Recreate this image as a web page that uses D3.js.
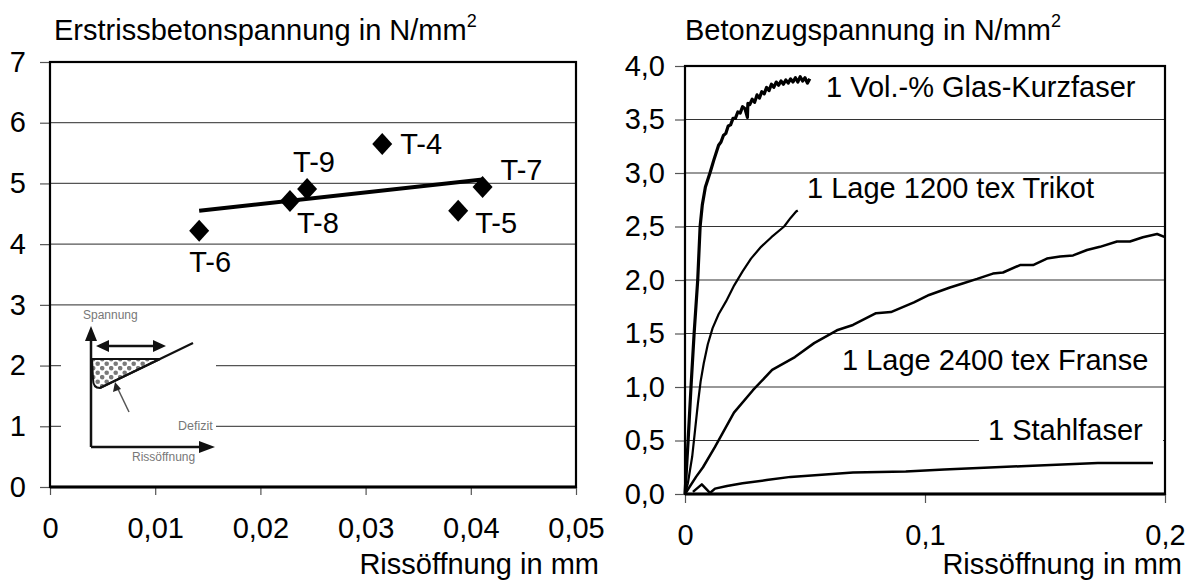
<!DOCTYPE html>
<html>
<head>
<meta charset="utf-8">
<script src="https://cdn.jsdelivr.net/npm/d3@7"></script>
<style>
	body { margin: 0; background: white; }
	svg text { font-family: "Liberation Sans", Arial, sans-serif; fill: black; }
</style>
</head>
<body>
<div id="graph"></div>
<script>
// left chart: first crack stress vs crack width
var pointNames = ["T-6", "T-8", "T-9", "T-4", "T-5", "T-7"];
var crackWidth = [0.01418, 0.02281, 0.02444, 0.03158, 0.0388, 0.04112];
var crackStress = [4.22, 4.71, 4.91, 5.65, 4.55, 4.94];
var leftXTicks = [0, 0.01, 0.02, 0.03, 0.04, 0.05];
var leftYTicks = [0, 1, 2, 3, 4, 5, 6, 7];

// right chart: tensile stress curves
var glasX = [0, 0.0013, 0.0025, 0.0038, 0.0053, 0.0058, 0.0063, 0.0072, 0.0085, 0.0104, 0.012, 0.014, 0.015, 0.016, 0.017, 0.018, 0.019, 0.02, 0.021, 0.022, 0.023, 0.024, 0.025, 0.026, 0.0262, 0.027, 0.028, 0.029, 0.03, 0.031, 0.032, 0.033, 0.034, 0.035, 0.036, 0.037, 0.038, 0.039, 0.04, 0.041, 0.042, 0.043, 0.044, 0.045, 0.046, 0.047, 0.048, 0.049, 0.05, 0.051, 0.052];
var glasY = [0, 0.5, 1.0, 1.5, 2.0, 2.25, 2.5, 2.7, 2.87, 3.0, 3.12, 3.26, 3.29, 3.35, 3.37, 3.44, 3.45, 3.51, 3.51, 3.57, 3.56, 3.62, 3.6, 3.52, 3.65, 3.64, 3.69, 3.66, 3.73, 3.7, 3.76, 3.74, 3.8, 3.77, 3.83, 3.8, 3.85, 3.82, 3.86, 3.83, 3.87, 3.84, 3.88, 3.85, 3.89, 3.85, 3.9, 3.86, 3.89, 3.84, 3.88];
var trikotX = [0, 0.0012, 0.003, 0.0042, 0.0054, 0.0065, 0.0078, 0.0095, 0.0115, 0.014, 0.0171, 0.0205, 0.024, 0.0275, 0.0317, 0.036, 0.0413, 0.044, 0.0463, 0.047];
var trikotY = [0, 0.1, 0.35, 0.6, 0.85, 1.05, 1.22, 1.4, 1.55, 1.68, 1.8, 1.95, 2.08, 2.2, 2.31, 2.4, 2.5, 2.58, 2.64, 2.65];
var franseX = [0, 0.0046, 0.0075, 0.0125, 0.0204, 0.0283, 0.0363, 0.0458, 0.0538, 0.0633, 0.07, 0.0796, 0.0858, 0.0954, 0.1017, 0.1104, 0.116, 0.1217, 0.1283, 0.1325, 0.1396, 0.145, 0.1508, 0.1563, 0.1617, 0.1675, 0.1729, 0.18, 0.1854, 0.1908, 0.1967, 0.2];
var franseY = [0, 0.16, 0.25, 0.44, 0.76, 0.97, 1.16, 1.28, 1.41, 1.53, 1.58, 1.69, 1.7, 1.79, 1.86, 1.93, 1.97, 2.01, 2.06, 2.07, 2.14, 2.14, 2.2, 2.22, 2.23, 2.28, 2.31, 2.36, 2.36, 2.4, 2.43, 2.4];
var stahlX = [0.0033, 0.007, 0.0104, 0.0125, 0.0175, 0.024, 0.034, 0.044, 0.07, 0.092, 0.108, 0.14, 0.172, 0.195];
var stahlY = [0.02, 0.09, 0.01, 0.05, 0.075, 0.1, 0.13, 0.16, 0.2, 0.21, 0.23, 0.26, 0.29, 0.29];
var curveNames = ["1 Vol.-% Glas-Kurzfaser", "1 Lage 1200 tex Trikot", "1 Lage 2400 tex Franse", "1 Stahlfaser"];
var rightXTicks = [0, 0.1, 0.2];
var rightYTicks = [0, 0.5, 1, 1.5, 2, 2.5, 3, 3.5, 4];

var w = 1193;
var h = 581;
var fontSize = 29;
var comma = function (v) { return String(v).replace(".", ","); };
var fixed1 = function (v) { return v.toFixed(1).replace(".", ","); };

var svg = d3.select("#graph")
	.append("svg")
	.attr("width", w)
	.attr("height", h);

// ---------- left chart ----------
var xL = d3.scaleLinear().domain([0, 0.05]).range([50, 576]);
var yL = d3.scaleLinear().domain([0, 7]).range([487, 62]);

var left = svg.append("g").attr("id", "left");

left.selectAll("line.grid")
	.data(leftYTicks.slice(1, -1))
	.enter().append("line")
	.attr("class", "grid")
	.attr("x1", xL(0)).attr("x2", xL(0.05))
	.attr("y1", function (d) { return yL(d); })
	.attr("y2", function (d) { return yL(d); })
	.attr("stroke", "#555")
	.attr("stroke-width", 1.2);

// inset sketch (pasted picture in the original)
var inset = left.append("g").attr("transform", "translate(91,447)");
var defs = svg.append("defs");
var pat = defs.append("pattern")
	.attr("id", "dots")
	.attr("patternUnits", "userSpaceOnUse")
	.attr("width", 9).attr("height", 9);
pat.append("rect").attr("width", 9).attr("height", 9).attr("fill", "white");
pat.append("circle").attr("cx", 2.2).attr("cy", 2.2).attr("r", 2.3).attr("fill", "#7a7a7a");
pat.append("circle").attr("cx", 6.7).attr("cy", 6.7).attr("r", 2.3).attr("fill", "#7a7a7a");

inset.append("rect")
	.attr("x", -30).attr("y", -139)
	.attr("width", 155).attr("height", 162)
	.attr("fill", "white");

inset.append("path")
	.attr("d", "M1,-88 L69,-88 L9,-59 Q2,-59 2,-68 Z")
	.attr("fill", "url(#dots)")
	.attr("stroke", "#111")
	.attr("stroke-width", 2);

inset.append("line")
	.attr("x1", 9).attr("y1", -59).attr("x2", 102).attr("y2", -104)
	.attr("stroke", "#111").attr("stroke-width", 2.2);

// axes of the sketch
inset.append("path")
	.attr("d", "M0,0 L0,-108 M0,0 L110,0")
	.attr("stroke", "#111").attr("stroke-width", 2.5).attr("fill", "none");
inset.append("path")
	.attr("d", "M0,-121 L-6,-106 L6,-106 Z M124,0 L108,-6 L108,6 Z")
	.attr("fill", "#111");

// double arrow
inset.append("line")
	.attr("x1", 14).attr("y1", -101).attr("x2", 66).attr("y2", -101)
	.attr("stroke", "#111").attr("stroke-width", 2.5);
inset.append("path")
	.attr("d", "M5,-101 L18,-107 L18,-95 Z M75,-101 L62,-107 L62,-95 Z")
	.attr("fill", "#111");

// pointer
inset.append("line")
	.attr("x1", 38).attr("y1", -35).attr("x2", 26).attr("y2", -60)
	.attr("stroke", "#555").attr("stroke-width", 1.5);
inset.append("path")
	.attr("d", "M24,-65 L22,-55 L30,-58 Z")
	.attr("fill", "#222");

inset.append("text").attr("x", -8).attr("y", -128)
	.style("font-size", "12px").style("fill", "#777").text("Spannung");
inset.append("text").attr("x", 87).attr("y", -17)
	.style("font-size", "12.5px").style("fill", "#777").text("Defizit");
inset.append("text").attr("x", 41).attr("y", 14)
	.style("font-size", "12px").style("fill", "#777").text("Rissöffnung");

// axes
var axisL = left.append("g")
	.attr("transform", "translate(" + xL(0) + ",0)")
	.call(d3.axisLeft(yL).tickValues(leftYTicks).tickSize(10).tickPadding(14).tickFormat(comma));
var axisB = left.append("g")
	.attr("transform", "translate(0," + yL(0) + ")")
	.call(d3.axisBottom(xL).tickValues(leftXTicks).tickSize(8).tickPadding(22).tickFormat(comma));

[axisL, axisB].forEach(function (a) {
	a.select(".domain").remove();
	a.selectAll("line").attr("stroke", "#555").attr("stroke-width", 1.2);
	a.selectAll("text").style("font-size", fontSize + "px").style("font-family", "Liberation Sans, Arial, sans-serif");
});

// frame
left.append("rect")
	.attr("x", xL(0)).attr("y", yL(7))
	.attr("width", xL(0.05) - xL(0)).attr("height", yL(0) - yL(7))
	.attr("fill", "none").attr("stroke", "black").attr("stroke-width", 2.2);
left.append("line")
	.attr("x1", xL(0)).attr("x2", xL(0.05))
	.attr("y1", yL(0)).attr("y2", yL(0))
	.attr("stroke", "black").attr("stroke-width", 3);

// trend line (least squares)
var mx = d3.mean(crackWidth), my = d3.mean(crackStress);
var sxy = d3.sum(crackWidth, function (d, i) { return (d - mx) * (crackStress[i] - my); });
var sxx = d3.sum(crackWidth, function (d) { return (d - mx) * (d - mx); });
var slope = sxy / sxx;
var x0 = d3.min(crackWidth), x1 = d3.max(crackWidth);
left.append("line")
	.attr("x1", xL(x0)).attr("y1", yL(my + slope * (x0 - mx)))
	.attr("x2", xL(x1)).attr("y2", yL(my + slope * (x1 - mx)))
	.attr("stroke", "black").attr("stroke-width", 4);

// points
var points = pointNames.map(function (n, i) {
	return {name: n, x: crackWidth[i], y: crackStress[i]};
});
var diamond = "M0,-11 L10,0 L0,11 L-10,0 Z";
left.selectAll("path.pt")
	.data(points)
	.enter().append("path")
	.attr("class", "pt")
	.attr("d", diamond)
	.attr("transform", function (d) { return "translate(" + xL(d.x) + "," + yL(d.y) + ")"; })
	.attr("fill", "black");

var labelOffset = {
	"T-6": [-10, 41], "T-8": [7, 32], "T-9": [-14, -17],
	"T-4": [18, 10], "T-5": [17, 22], "T-7": [18, -7]
};
left.selectAll("text.lbl")
	.data(points)
	.enter().append("text")
	.attr("class", "lbl")
	.attr("x", function (d) { return xL(d.x) + labelOffset[d.name][0]; })
	.attr("y", function (d) { return yL(d.y) + labelOffset[d.name][1]; })
	.style("font-size", fontSize + "px")
	.text(function (d) { return d.name; });

var t1 = left.append("text").attr("x", 54).attr("y", 40).style("font-size", fontSize + "px");
t1.append("tspan").text("Erstrissbetonspannung in N/mm");
t1.append("tspan").attr("dy", -13).style("font-size", "18px").text("2");

left.append("text")
	.attr("x", 599).attr("y", 574)
	.attr("text-anchor", "end")
	.style("font-size", fontSize + "px")
	.text("Rissöffnung in mm");

// ---------- right chart ----------
var xR = d3.scaleLinear().domain([0, 0.2]).range([685, 1165]);
var yR = d3.scaleLinear().domain([0, 4]).range([494, 66]);

var right = svg.append("g").attr("id", "right");

right.selectAll("line.grid")
	.data(rightYTicks.slice(1, -1))
	.enter().append("line")
	.attr("class", "grid")
	.attr("x1", xR(0)).attr("x2", xR(0.2))
	.attr("y1", function (d) { return yR(d); })
	.attr("y2", function (d) { return yR(d); })
	.attr("stroke", "#333")
	.attr("stroke-width", 1.2);

var axisRL = right.append("g")
	.attr("transform", "translate(" + xR(0) + ",0)")
	.call(d3.axisLeft(yR).tickValues(rightYTicks).tickSize(10).tickPadding(10).tickFormat(fixed1));
var axisRB = right.append("g")
	.attr("transform", "translate(0," + yR(0) + ")")
	.call(d3.axisBottom(xR).tickValues(rightXTicks).tickSize(9).tickPadding(21).tickFormat(comma));

[axisRL, axisRB].forEach(function (a) {
	a.select(".domain").remove();
	a.selectAll("line").attr("stroke", "#555").attr("stroke-width", 1.2);
	a.selectAll("text").style("font-size", fontSize + "px").style("font-family", "Liberation Sans, Arial, sans-serif");
});

// white box behind the steel fibre label
right.append("rect")
	.attr("x", 979).attr("y", 414)
	.attr("width", 184).attr("height", 32)
	.attr("fill", "white");

var line = d3.line()
	.x(function (d) { return xR(d[0]); })
	.y(function (d) { return yR(d[1]); })
	.curve(d3.curveLinear);

var series = [
	{xs: glasX, ys: glasY, sw: 3.2},
	{xs: trikotX, ys: trikotY, sw: 2.2},
	{xs: franseX, ys: franseY, sw: 2.5},
	{xs: stahlX, ys: stahlY, sw: 2.5}
];
right.selectAll("path.curve")
	.data(series)
	.enter().append("path")
	.attr("class", "curve")
	.attr("d", function (s) { return line(s.xs.map(function (x, i) { return [x, s.ys[i]]; })); })
	.attr("fill", "none")
	.attr("stroke", "black")
	.attr("stroke-width", function (s) { return s.sw; })
	.attr("stroke-linejoin", "round");

right.append("rect")
	.attr("x", xR(0)).attr("y", yR(4))
	.attr("width", xR(0.2) - xR(0)).attr("height", yR(0) - yR(4))
	.attr("fill", "none").attr("stroke", "black").attr("stroke-width", 2.2);
right.append("line")
	.attr("x1", xR(0)).attr("x2", xR(0.2))
	.attr("y1", yR(0)).attr("y2", yR(0))
	.attr("stroke", "black").attr("stroke-width", 3);

var curveLabelPos = [[826, 97], [807, 198], [842, 370], [988, 440]];
right.selectAll("text.curveLbl")
	.data(curveNames)
	.enter().append("text")
	.attr("class", "curveLbl")
	.attr("x", function (d, i) { return curveLabelPos[i][0]; })
	.attr("y", function (d, i) { return curveLabelPos[i][1]; })
	.style("font-size", fontSize + "px")
	.text(function (d) { return d; });

var t2 = right.append("text").attr("x", 685).attr("y", 40).style("font-size", fontSize + "px");
t2.append("tspan").text("Betonzugspannung in N/mm");
t2.append("tspan").attr("dy", -13).style("font-size", "18px").text("2");

right.append("text")
	.attr("x", 1182).attr("y", 574)
	.attr("text-anchor", "end")
	.style("font-size", fontSize + "px")
	.text("Rissöffnung in mm");
</script>
</body>
</html>
